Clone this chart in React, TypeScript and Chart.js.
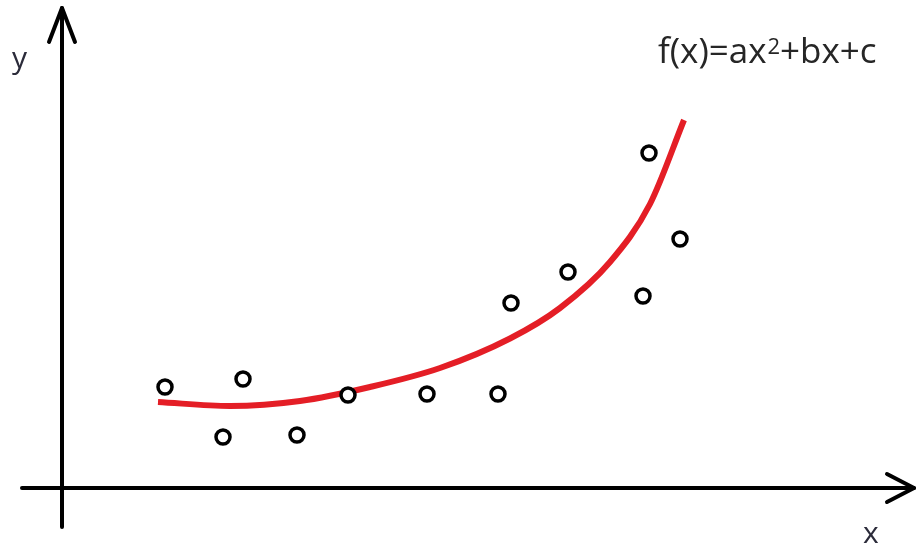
import React, { useEffect, useRef } from "react";
import { Chart, registerables } from "chart.js";

Chart.register(...registerables);

const pointX = [2.06, 3.22, 3.62, 4.7, 5.72, 7.3, 8.72, 8.98, 10.12, 11.62, 11.74, 12.36];
const pointY = [2.02, 1.02, 2.18, 1.06, 1.86, 1.88, 1.88, 3.7, 4.32, 3.84, 6.7, 4.98];

const curveX = [1.92, 3.36, 4.76, 6.16, 7.56, 8.96, 9.96, 10.96, 11.76, 12.44];
const curveY = [1.72, 1.64, 1.74, 2.02, 2.4, 2.99, 3.6, 4.52, 5.68, 7.36];

const xLabel = "x";
const yLabel = "y";
const formulaParts = ["f(x)=ax", "2", "+bx+c"];

const axesPlugin = {
  id: "sketchAxes",
  beforeDatasetsDraw(chart: any) {
    const { ctx, scales } = chart;
    const xs = scales.x;
    const ys = scales.y;
    const ox = xs.getPixelForValue(0);
    const oy = ys.getPixelForValue(0);
    ctx.save();
    ctx.strokeStyle = "#000";
    ctx.lineWidth = 4;
    ctx.lineCap = "round";
    ctx.lineJoin = "round";
    // y axis
    const yTop = ys.getPixelForValue(9.6);
    const yBot = ys.getPixelForValue(-0.78);
    ctx.beginPath();
    ctx.moveTo(ox, yBot);
    ctx.lineTo(ox, yTop);
    ctx.stroke();
    ctx.beginPath();
    ctx.moveTo(ox - 13, yTop + 34);
    ctx.lineTo(ox, yTop);
    ctx.lineTo(ox + 13, yTop + 34);
    ctx.stroke();
    // x axis
    const xL = xs.getPixelForValue(-0.8);
    const xR = xs.getPixelForValue(17.04);
    ctx.beginPath();
    ctx.moveTo(xL, oy);
    ctx.lineTo(xR, oy);
    ctx.stroke();
    ctx.beginPath();
    ctx.moveTo(xR - 27, oy - 14);
    ctx.lineTo(xR, oy);
    ctx.lineTo(xR - 27, oy + 14);
    ctx.stroke();
    // labels
    ctx.fillStyle = "#2b2b3a";
    ctx.font = "30px 'Open Sans', sans-serif";
    ctx.textBaseline = "alphabetic";
    ctx.textAlign = "left";
    ctx.fillText(yLabel, xs.getPixelForValue(-1.0), ys.getPixelForValue(8.4));
    ctx.fillText(xLabel, xs.getPixelForValue(16.02), ys.getPixelForValue(-1.1));
    // formula
    let fx = xs.getPixelForValue(11.92);
    const fy = ys.getPixelForValue(8.5);
    ctx.fillStyle = "#262626";
    ctx.font = "35px 'Open Sans', sans-serif";
    ctx.fillText(formulaParts[0], fx, fy);
    fx += ctx.measureText(formulaParts[0]).width + 1;
    ctx.font = "22px 'Open Sans', sans-serif";
    ctx.fillText(formulaParts[1], fx, fy - 9);
    fx += ctx.measureText(formulaParts[1]).width;
    ctx.font = "35px 'Open Sans', sans-serif";
    ctx.fillText(formulaParts[2], fx, fy);
    ctx.restore();
  },
};

export default function App() {
  const ref = useRef<HTMLCanvasElement | null>(null);
  useEffect(() => {
    document.body.style.margin = "0";
    const canvas = ref.current;
    if (!canvas) return;
    const chart = new Chart(canvas, {
      type: "scatter",
      data: {
        datasets: [
          {
            type: "line",
            label: "fit",
            data: curveX.map((x, i) => ({ x, y: curveY[i] })),
            borderColor: "#e41e26",
            borderWidth: 6,
            pointRadius: 0,
            fill: false,
            cubicInterpolationMode: "monotone",
            borderCapStyle: "butt",
            order: 2,
          } as any,
          {
            label: "data",
            data: pointX.map((x, i) => ({ x, y: pointY[i] })),
            pointRadius: 7,
            pointBorderWidth: 3.5,
            pointBorderColor: "#000",
            pointBackgroundColor: "#fff",
            order: 1,
          },
        ],
      },
      options: {
        animation: false,
        responsive: false,
        maintainAspectRatio: false,
        layout: { padding: 0, autoPadding: false },
        plugins: { legend: { display: false }, tooltip: { enabled: false } },
        scales: {
          x: { type: "linear", display: false, min: -1.24, max: 17.1 },
          y: { type: "linear", display: false, min: -1.42, max: 9.76 },
        },
      },
      plugins: [axesPlugin],
    });
    return () => chart.destroy();
  }, []);
  return (
    <div style={{ position: "absolute", left: 0, top: 0, width: 917, height: 559, background: "#fff" }}>
      <canvas ref={ref} width={917} height={559} style={{ display: "block" }} />
    </div>
  );
}
